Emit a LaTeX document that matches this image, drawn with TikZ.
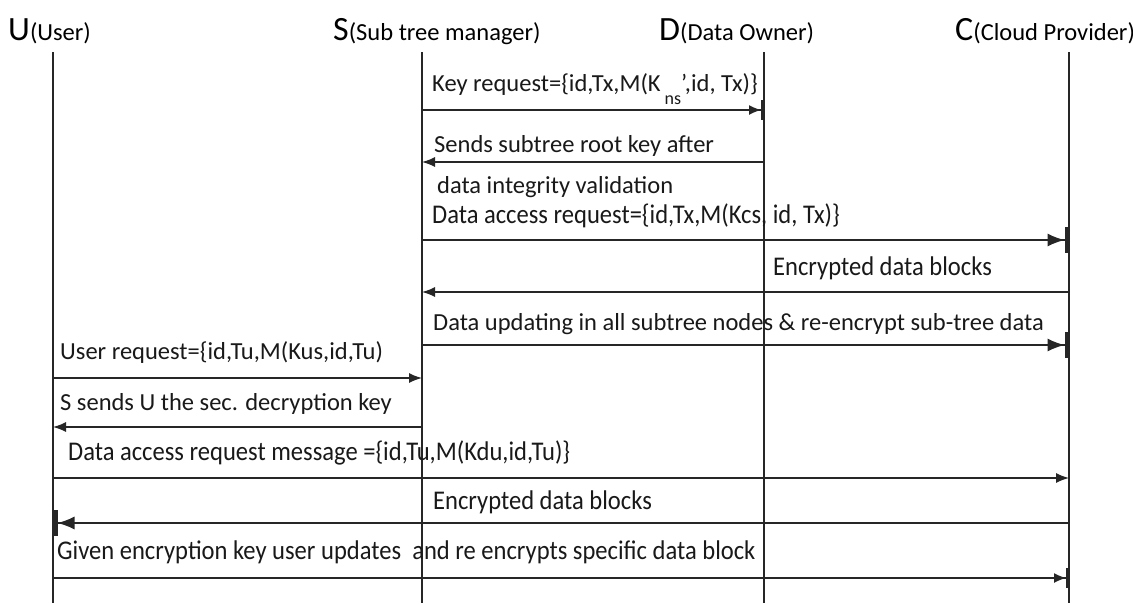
\documentclass[tikz,border=0pt]{standalone}
\usepackage{fontspec}
\setmainfont{Carlito}
\usetikzlibrary{arrows.meta}
\tikzset{
  life/.style={line width=1.3pt,black!85},
  msg/.style={line width=1.4pt,black!85,-{Latex[length=13pt,width=10pt]}},
  msgbar/.style={line width=1.4pt,black!85,-{Latex[length=17pt,width=13pt]Bar[width=26pt,line width=4.5pt]}},
  msgsbar/.style={line width=1.4pt,black!85,-{Latex[length=12pt,width=10pt]Bar[width=20pt,line width=3pt]}},
  lbl/.style={anchor=base west,inner sep=0pt,font=\fontsize{24.5}{28}\selectfont,text=black!90},
  clbl/.style={anchor=base west,inner sep=0pt,font=\fontsize{27}{30}\selectfont,text=black!90,xscale=0.91},
  big/.style={anchor=base west,inner sep=0pt,font=\fontsize{34}{36}\selectfont},
}
\newcommand{\sm}[1]{{\fontsize{24.5}{28}\selectfont #1}}
\begin{document}
\begin{tikzpicture}[x=1pt,y=-1pt]
\useasboundingbox[fill=white] (0,0) rectangle (1133,603);
% headers
\node[big] (hU) at (8,40) {U\sm{(User)}};
\node[big] (hS) at (333,40) {S\sm{(Sub tree manager)}};
\node[big] (hD) at (659,40) {D\sm{(Data Owner)}};
\node[big] (hC) at (955,40) {C\sm{(Cloud Provider)}};
% lifelines
\coordinate (Ut) at (53,52); \coordinate (Ub) at (53,603);
\coordinate (St) at (422,52); \coordinate (Sb) at (422,603);
\coordinate (Dt) at (764,52); \coordinate (Db) at (764,603);
\coordinate (Ct) at (1069,52); \coordinate (Cb) at (1069,603);
\draw[life] (Ut) -- (Ub);
\draw[life] (St) -- (Sb);
\draw[life] (Dt) -- (Db);
\draw[life] (Ct) -- (Cb);
% message endpoints
\coordinate (m1a) at (422,110); \coordinate (m1b) at (764,110);
\coordinate (m2a) at (764,162); \coordinate (m2b) at (422,162);
\coordinate (m3a) at (422,240); \coordinate (m3b) at (1069,240);
\coordinate (m4a) at (1069,292); \coordinate (m4b) at (422,292);
\coordinate (m5a) at (422,345); \coordinate (m5b) at (1069,345);
\coordinate (m6a) at (53,378); \coordinate (m6b) at (422,378);
\coordinate (m7a) at (422,427); \coordinate (m7b) at (53,427);
\coordinate (m8a) at (53,478); \coordinate (m8b) at (1069,478);
\coordinate (m9a) at (1069,523); \coordinate (m9b) at (53,523);
\coordinate (m10a) at (53,578); \coordinate (m10b) at (1069,578);
\draw[msgsbar] (m1a) -- (m1b);
\draw[msg] (m2a) -- (m2b);
\draw[msgbar] (m3a) -- (m3b);
\draw[msg] (m4a) -- (m4b);
\draw[msgbar] (m5a) -- (m5b);
\draw[msg] (m6a) -- (m6b);
\draw[msg] (m7a) -- (m7b);
\draw[msg] (m8a) -- (m8b);
\draw[msgbar] (m9a) -- (m9b);
\draw[msgsbar] (m10a) -- (m10b);
% labels
\node[lbl] (l1) at (432,91) {Key request=\{id,Tx,M(K\,\raisebox{-0.55em}{\fontsize{18}{20}\selectfont ns}',id, Tx)\}};
\node[lbl] (l2) at (434,152) {Sends subtree root key after};
\node[lbl] (l2b) at (437,193) {data integrity validation};
\node[clbl] (l3) at (432,223) {Data access request=\{id,Tx,M(Kcs, id, Tx)\}};
\node[clbl] (l4) at (773,275) {Encrypted data blocks};
\node[lbl] (l5) at (433,330) {Data updating in all subtree nodes \& re-encrypt sub-tree data};
\node[lbl] (l6) at (60,359) {User request=\{id,Tu,M(Kus,id,Tu)};
\node[lbl] (l7) at (60,410) {S sends U the sec. decryption key};
\node[clbl] (l8) at (68,460) {Data access request message =\{id,Tu,M(Kdu,id,Tu)\}};
\node[clbl] (l9) at (433,509) {Encrypted data blocks};
\node[clbl] (l10) at (57,559) {Given encryption key user updates \ and re encrypts specific data block};
\end{tikzpicture}
\end{document}
